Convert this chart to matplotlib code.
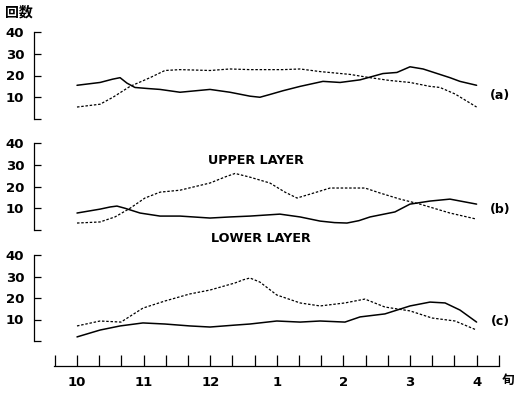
import matplotlib.pyplot as plt

plt.rcParams['font.family'] = ['DejaVu Sans', 'Noto Sans CJK JP']

# x positions are in 旬 (10-day periods) counted from early October
a_solid_x = [0, 1.04, 1.6, 1.94, 2.25, 2.61, 3.2, 3.74, 4.64, 5.99, 6.89, 7.79, 8.24, 8.7, 9.28, 10.05, 11.08, 11.85, 12.75, 13.78, 14.41, 15.0, 15.59, 16.8, 17.25, 18]
a_solid_y = [15.5, 16.8, 18.3, 19, 16.5, 14.5, 14, 13.6, 12.3, 13.6, 12.3, 10.5, 10, 11.3, 13, 15, 17.3, 16.8, 18, 20.9, 21.4, 24, 23, 19, 17.3, 15.5]
a_dash_x = [0, 1.04, 1.62, 2.39, 3.29, 3.96, 4.64, 5.99, 6.89, 7.79, 9.28, 10.05, 10.95, 12.3, 13.2, 14.1, 15.0, 15.9, 16.35, 17.03, 18]
a_dash_y = [5.5, 6.8, 10, 15, 19, 22.3, 22.7, 22.3, 23, 22.7, 22.7, 23, 21.8, 20.5, 19, 17.7, 16.8, 15, 14.5, 11.5, 5.5]

b_solid_x = [0, 1.04, 1.5, 1.8, 2.16, 2.84, 3.74, 4.64, 5.99, 6.89, 7.79, 9.14, 10.05, 10.95, 11.6, 12.16, 12.7, 13.2, 14.32, 15.0, 15.9, 16.8, 18]
b_solid_y = [7.8, 9.6, 10.6, 11, 10, 7.8, 6.4, 6.4, 5.5, 6, 6.4, 7.3, 6, 4.1, 3.4, 3.2, 4.3, 6, 8.3, 11.9, 13.3, 14.2, 11.9]
b_dash_x = [0, 1.04, 1.71, 2.39, 3.06, 3.74, 4.64, 5.99, 6.7, 7.12, 7.79, 8.69, 9.37, 9.91, 10.5, 11.4, 12.97, 13.65, 14.55, 15.45, 16.8, 18]
b_dash_y = [3.2, 3.7, 6, 10, 14.7, 17.4, 18.3, 21.6, 24.5, 26, 24.3, 21.6, 17.4, 14.7, 16.5, 19.3, 19.3, 17, 14.2, 11.9, 7.8, 5]

c_solid_x = [0, 1.04, 1.94, 2.97, 3.96, 5.09, 5.99, 7.12, 7.79, 9.0, 10.05, 10.95, 12.07, 12.75, 13.87, 15.0, 15.9, 16.58, 17.25, 18]
c_solid_y = [1.9, 5.1, 7, 8.4, 7.9, 7, 6.5, 7.4, 7.9, 9.3, 8.8, 9.3, 8.8, 11.2, 12.6, 16.3, 18.1, 17.7, 14.4, 8.8]
c_dash_x = [0, 1.04, 1.98, 2.97, 3.96, 5.09, 5.99, 7.12, 7.5, 7.79, 8.24, 9.0, 10.05, 10.95, 12.07, 12.97, 13.87, 15.0, 15.99, 17.03, 18]
c_dash_y = [7, 9.3, 8.8, 15.3, 18.6, 21.9, 23.7, 27, 28.5, 29.3, 27.4, 21.4, 17.7, 16.3, 17.7, 19.5, 15.8, 14, 10.7, 9.3, 5.1]

y_ticks = [0, 10, 20, 30, 40]
y_labels = ['', '10', '20', '30', '40']
month_pos = [0, 3, 6, 9, 12, 15, 18]
month_labels = ['10', '11', '12', '1', '2', '3', '4']
panel_tags = ['(a)', '(b)', '(c)']

W, H = 515, 393
fig = plt.figure(figsize=(W / 100, H / 100), dpi=100)

def px_axes(left, top, right, bottom):
   return fig.add_axes([left / W, 1 - bottom / H, (right - left) / W, (bottom - top) / H])

xlim = ((34 - 77) / 22.2, (500 - 77) / 22.2)
panels = [
   (px_axes(34, 32, 500, 119), a_solid_x, a_solid_y, a_dash_x, a_dash_y, 96),
   (px_axes(34, 143, 500, 230), b_solid_x, b_solid_y, b_dash_x, b_dash_y, 210),
   (px_axes(34, 255, 500, 341), c_solid_x, c_solid_y, c_dash_x, c_dash_y, 322),
]

for (ax, sx, sy, dx, dy, tag_y), tag in zip(panels, panel_tags):
   ax.plot(sx, sy, color='black', lw=1.1, solid_joinstyle='round', solid_capstyle='round')
   ax.plot(dx, dy, color='black', lw=0.9, linestyle=(0, (2, 1.4)))
   ax.set_xlim(*xlim)
   ax.set_ylim(0, 40)
   for s in ['top', 'right', 'bottom']:
      ax.spines[s].set_visible(False)
   ax.spines['left'].set_linewidth(0.9)
   ax.set_yticks(y_ticks)
   ax.set_yticklabels(y_labels, fontsize=9.5, fontweight='bold')
   ax.tick_params(axis='y', direction='in', length=5, width=0.9, pad=7)
   ax.set_xticks([])
   ax.patch.set_alpha(0)
   fig.text(500 / W, 1 - tag_y / H, tag, fontsize=9, fontweight='bold',
            ha='center', va='center')

# bottom time axis
axx = px_axes(34, 350, 500, 366)
axx.set_xlim(*xlim)
axx.set_ylim(0, 1)
for s in ['top', 'right', 'left']:
   axx.spines[s].set_visible(False)
axx.spines['bottom'].set_bounds(-1.04, 19.0)
axx.spines['bottom'].set_linewidth(0.9)
axx.set_yticks([])
axx.set_xticks(list(range(-1, 19)) + [19.0])
axx.set_xticklabels(['' for _ in range(21)])
axx.tick_params(axis='x', direction='in', length=8, width=0.9)
axx.patch.set_alpha(0)
for p, lab in zip(month_pos, month_labels):
   axx.text(p, -1.0, lab, fontsize=9.5, fontweight='bold', ha='center', va='center')
fig.text(508 / W, 1 - 380 / H, '旬', fontsize=9, fontweight='bold', ha='center', va='center',
         family=['Noto Sans CJK JP', 'DejaVu Sans'])

fig.text(5 / W, 1 - 12 / H, '回数', fontsize=10, fontweight='bold', ha='left', va='center',
         family=['Noto Sans CJK JP', 'DejaVu Sans'])
fig.text(256 / W, 1 - 160 / H, 'UPPER LAYER', fontsize=9.2, fontweight='bold', ha='center', va='center')
fig.text(261 / W, 1 - 238 / H, 'LOWER LAYER', fontsize=9.2, fontweight='bold', ha='center', va='center')

fig.savefig('out.png', dpi=100)
